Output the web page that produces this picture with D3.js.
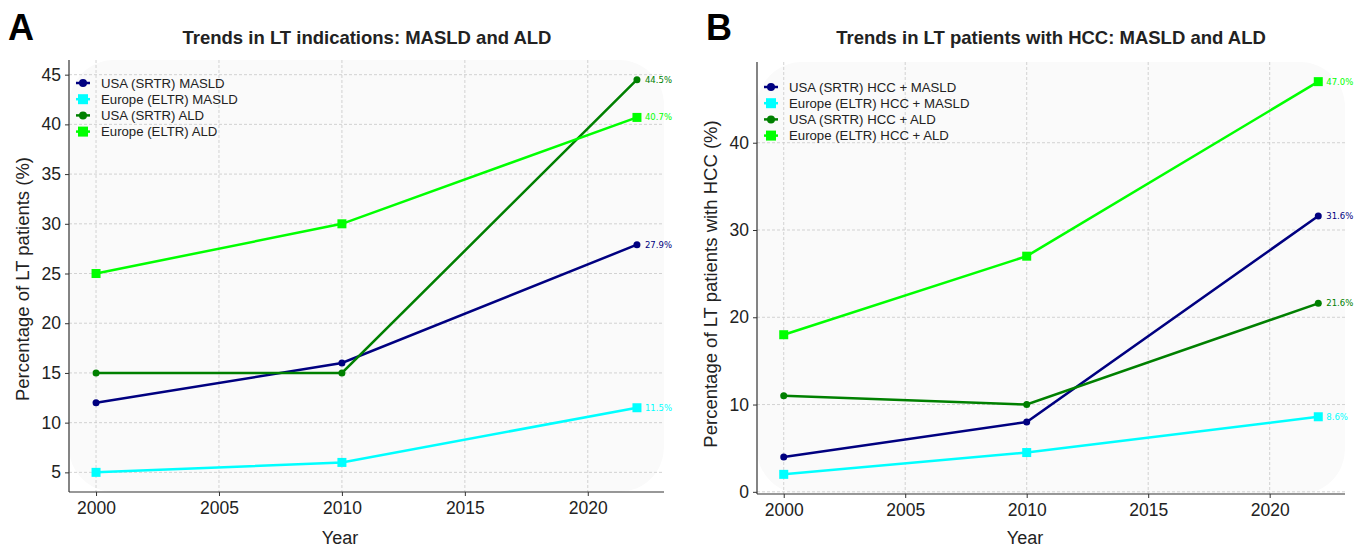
<!DOCTYPE html>
<html>
<head>
<meta charset="utf-8">
<script src="https://cdn.jsdelivr.net/npm/d3@7.9.0/dist/d3.min.js"></script>
<style>
  body { margin: 0; background: #fff; }
  svg { display: block; font-family: "Liberation Sans", Arial, sans-serif; }
</style>
</head>
<body>
<div id="chart"></div>
<script>
const years = [2000, 2010, 2022];
const xTicks = [2000, 2005, 2010, 2015, 2020];

// Panel A
const titleA = "Trends in LT indications: MASLD and ALD";
const namesA = ["USA (SRTR) MASLD", "Europe (ELTR) MASLD", "USA (SRTR) ALD", "Europe (ELTR) ALD"];
const usaMasldA = [12, 16, 27.9];
const euMasldA = [5, 6, 11.5];
const usaAldA = [15, 15, 44.5];
const euAldA = [25, 30, 40.7];
const yTicksA = [5, 10, 15, 20, 25, 30, 35, 40, 45];

// Panel B
const titleB = "Trends in LT patients with HCC: MASLD and ALD";
const namesB = ["USA (SRTR) HCC + MASLD", "Europe (ELTR) HCC + MASLD", "USA (SRTR) HCC + ALD", "Europe (ELTR) HCC + ALD"];
const usaMasldB = [4, 8, 31.6];
const euMasldB = [2, 4.5, 8.6];
const usaAldB = [11, 10, 21.6];
const euAldB = [18, 27, 47.0];
const yTicksB = [0, 10, 20, 30, 40];

const colors = ["#000080", "#00ffff", "#008000", "#00ff00"];
const shapes = ["circle", "square", "circle", "square"];

const svg = d3.select("#chart").append("svg")
  .attr("width", 1354).attr("height", 547);

function drawPanel(opt) {
  const {left, right, top, bottom} = opt.box;
  const series = opt.values;
  const allVals = series.flat();
  const lo = d3.min(allVals), hi = d3.max(allVals);
  const pad = (hi - lo) * 0.05;

  const x = d3.scaleLinear().domain([1998.9, 2023.1]).range([left, right]);
  const y = d3.scaleLinear().domain([lo - pad, hi + pad]).range([bottom, top]);

  const g = svg.append("g");

  // soft background
  g.append("rect")
    .attr("x", left).attr("y", top)
    .attr("width", right - left).attr("height", bottom - top)
    .attr("rx", 45).attr("fill", "#fafafa");

  // grid
  g.append("g").selectAll("line").data(opt.yTicks).join("line")
    .attr("x1", left).attr("x2", right)
    .attr("y1", d => y(d)).attr("y2", d => y(d))
    .attr("stroke", "#c8c8c8").attr("stroke-width", 0.8).attr("stroke-dasharray", "3,2");
  g.append("g").selectAll("line").data(xTicks).join("line")
    .attr("y1", top).attr("y2", bottom)
    .attr("x1", d => x(d)).attr("x2", d => x(d))
    .attr("stroke", "#c8c8c8").attr("stroke-width", 0.8).attr("stroke-dasharray", "3,2");

  // axes
  const xAxis = g.append("g")
    .attr("transform", `translate(0,${bottom})`)
    .call(d3.axisBottom(x).tickValues(xTicks).tickFormat(d3.format("d")).tickSizeOuter(0).tickSize(4).tickPadding(6));
  const yAxis = g.append("g")
    .attr("transform", `translate(${left},0)`)
    .call(d3.axisLeft(y).tickValues(opt.yTicks).tickSizeOuter(0).tickSize(4).tickPadding(4));
  [xAxis, yAxis].forEach(a => {
    a.select(".domain").attr("stroke", "#333").attr("stroke-width", 1.2)
      .attr("d", a === xAxis ? `M${left},0H${right}` : `M0,${top}V${bottom}`);
    a.selectAll(".tick line").attr("stroke", "#333");
    a.selectAll(".tick text").attr("font-size", 17.5).attr("fill", "#222")
      .attr("font-family", "Liberation Sans, Arial, sans-serif");
  });

  // lines and markers
  const line = d3.line().x((d, i) => x(years[i])).y(d => y(d));
  series.forEach((vals, k) => {
    g.append("path").datum(vals)
      .attr("d", line).attr("fill", "none")
      .attr("stroke", colors[k]).attr("stroke-width", 2.5);
    const pts = g.append("g").selectAll("g").data(vals).join("g")
      .attr("transform", (d, i) => `translate(${x(years[i])},${y(d)})`);
    if (shapes[k] === "circle") {
      pts.append("circle").attr("r", 3.5).attr("fill", colors[k]);
    } else {
      pts.append("rect").attr("x", -4.5).attr("y", -4.5).attr("width", 9).attr("height", 9).attr("fill", colors[k]);
    }
    const last = vals[vals.length - 1];
    g.append("text")
      .attr("x", x(years[years.length - 1]) + 8).attr("y", y(last) + 3)
      .attr("font-family", "DejaVu Sans, sans-serif").attr("font-size", 8.5)
      .attr("fill", colors[k])
      .text(last.toFixed(1) + "%");
  });

  // legend
  const lg = g.append("g").attr("transform", `translate(${opt.legend[0]},${opt.legend[1]})`);
  opt.names.forEach((name, k) => {
    const row = lg.append("g").attr("transform", `translate(0,${k * 16.2})`);
    row.append("line").attr("x1", 0).attr("x2", 14).attr("stroke", colors[k]).attr("stroke-width", 2.5);
    if (shapes[k] === "circle") row.append("circle").attr("cx", 7).attr("r", 4).attr("fill", colors[k]);
    else row.append("rect").attr("x", 2).attr("y", -5).attr("width", 10).attr("height", 10).attr("fill", colors[k]);
    row.append("text").attr("x", 25).attr("y", 4.5)
      .attr("font-size", 13.2).attr("fill", "#222").text(name);
  });

  // titles and labels
  g.append("text").attr("x", opt.letter[0]).attr("y", opt.letter[1])
    .attr("font-size", 36).attr("font-weight", "bold").attr("fill", "#000").text(opt.letterText);
  g.append("text").attr("x", opt.titleX).attr("y", 44)
    .attr("text-anchor", "middle").attr("font-size", 18.5).attr("font-weight", "bold")
    .attr("fill", "#222").text(opt.title);
  g.append("text").attr("x", opt.yearX).attr("y", 544)
    .attr("text-anchor", "middle").attr("font-size", 18).attr("fill", "#222").text("Year");
  g.append("text")
    .attr("transform", `translate(${opt.ylabelX},${opt.ylabelY}) rotate(-90)`)
    .attr("text-anchor", "middle").attr("font-size", 18.5).attr("fill", "#222").text(opt.ylabel);
}

drawPanel({
  box: {left: 69, right: 664, top: 60, bottom: 492},
  values: [usaMasldA, euMasldA, usaAldA, euAldA],
  names: namesA, yTicks: yTicksA,
  legend: [76, 83], letter: [8, 40], letterText: "A",
  title: titleA, titleX: 367, yearX: 340,
  ylabel: "Percentage of LT patients (%)", ylabelX: 29, ylabelY: 279
});

drawPanel({
  box: {left: 757, right: 1345, top: 62, bottom: 494},
  values: [usaMasldB, euMasldB, usaAldB, euAldB],
  names: namesB, yTicks: yTicksB,
  legend: [764, 87], letter: [706, 40], letterText: "B",
  title: titleB, titleX: 1051, yearX: 1025,
  ylabel: "Percentage of LT patients with HCC (%)", ylabelX: 717, ylabelY: 284
});
</script>
</body>
</html>
